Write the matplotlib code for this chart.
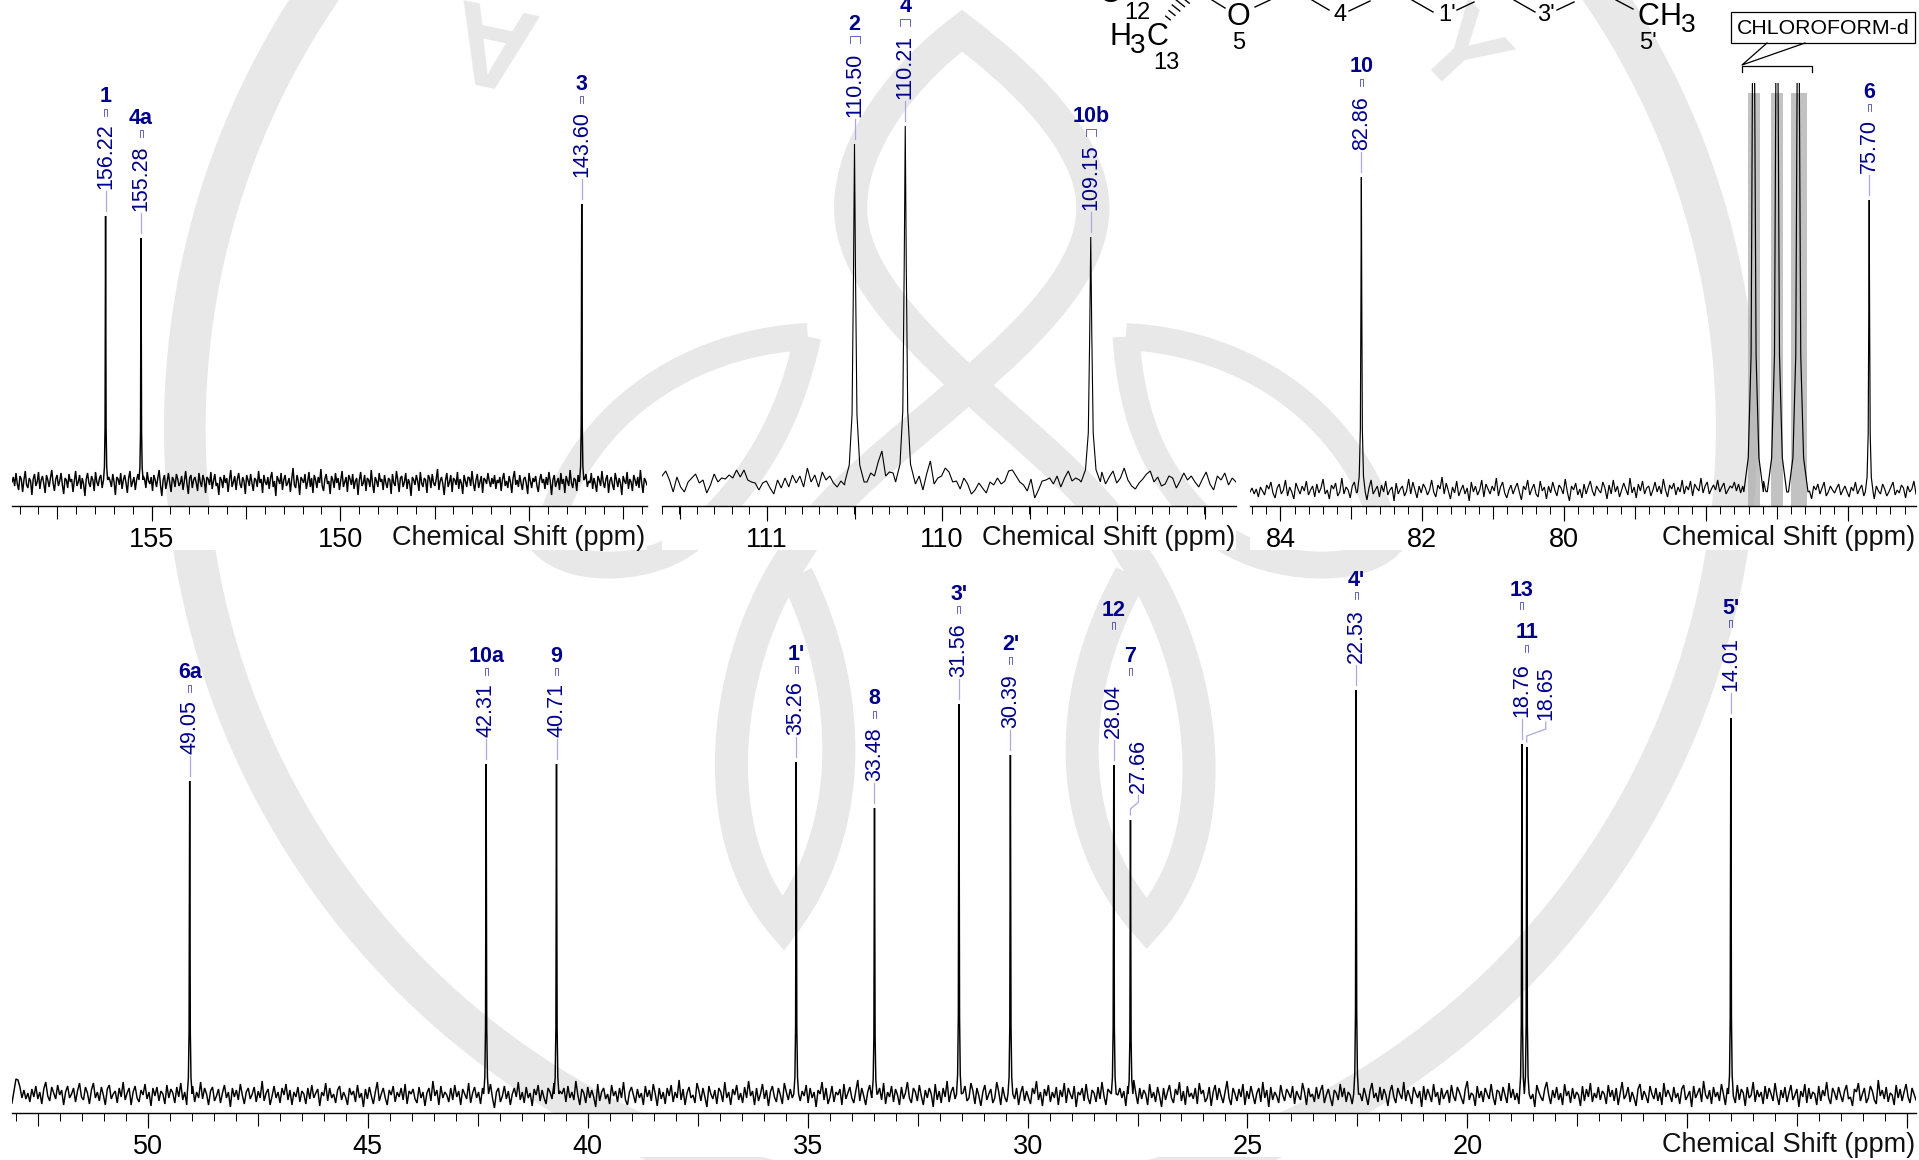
import numpy as np
import matplotlib
matplotlib.use("Agg")
import matplotlib.pyplot as plt
from matplotlib.path import Path
from matplotlib.patches import PathPatch, Circle, Rectangle
from matplotlib.ticker import MultipleLocator

plt.rcParams["font.family"] = ["Liberation Sans", "DejaVu Sans"]

W, H = 1919, 1160

# peak tables (ppm, label, intensity)
ppm_a = [156.22, 155.28, 143.60]
lab_a = ["1", "4a", "3"]
int_a = [290, 268, 302]
ppm_b = [110.50, 110.21, 109.15]
lab_b = ["2", "4", "10b"]
int_b = [362, 380, 269]
ppm_c = [82.86, 75.70]
lab_c = ["10", "6"]
int_c = [329, 306]
ppm_d = [49.05, 42.31, 40.71, 35.26, 33.48, 31.56, 30.39, 28.04, 27.66, 22.53, 18.76, 18.65, 14.01]
lab_d = ["6a", "10a", "9", "1'", "8", "3'", "2'", "12", "7", "4'", "13", "11", "5'"]
int_d = [332, 349, 349, 351, 305, 409, 358, 348, 293, 423, 369, 366, 395]

# solvent triplet, clipped at the top of the panel
ppm_solvent = [77.33, 77.00, 76.70]
int_solvent = [700, 700, 700]
solvent_bands = [(77.41, 77.24), (77.09, 76.92), (76.80, 76.58)]

# pixel row of the bold atom labels
label_y_a = [97, 118, 84]
label_y_b = [24, 7, 117]
label_y_c = [67, 92]
label_y_d = [673, 656, 656, 654, 699, 594, 645, 610, 656, 580, 590, 633, 608]

# baselines
noise_a = [24,29,20,33,22,16,30,27,14,26,35,21,18,28,25,11,27,32,20,24,34,17,26,30,22,13,31,26,19,28,36,23,15,27,31,20,25,33,21,12,
	28,26,18,32,24,27,14,25,35,20,24,31,17,28,22,10,27,33,23,19,30,26,15,34,24,20,28,31,18,26,37,22,14,29,25,19,32,24,11,29,
	27,21,33,17,26,31,23,13,28,35,19,24,29,16,26,32,20,23,12,30,27,18,34,25,22,29,15,31,26,19,28,36,21,10,26,31,17,24,33,23,
	14,29,26,19,32,27,20,23,30,16,25,35,22,12,28,31,18,26,29,23,15,33,24,19,31,26,13,29,27,21,34,17,25,32,20,23,11,29,26,18,
	31,23,28,14,26,36,19,24,30,16,27,33,22,18,29,25,12,31,26,20,32,23,15,28,26,19,35,23,27,13,31,24,21,29,17,28,34,19,25,10,
	30,26,22,33,16,26,31,20,23,28,14,27,38,21,18,31,25,11,29,26,23,32,17,24,34,19,28,13,31,26,18,29,23,37,20,15,27,32,22,25,
	12,30,26,18,33,23,28,16,26,35,19,24,29,14,31,27,21,32,17,25,28,11,26,34,20,23,31,15,28,26,19,36,22,13,29,25,19,33,24,27,
	16,31,23,18,28,26,12,32,23,20,35,26,14,28,30,19,24,33,17,27,22,10,29,26,21,31,25,15,34,23,19,28,26,13,31,28,18,32,23,20,
	27,37,16,25,29,22,11,26,33,19,24,31,14,28,26,21,34,17,27,23,12,31,25,19,29,28,20,35,23,15,26,32,18,24,30,13,28,26,22,33,
	25,19,28,22,31,17,26,23,29,15,27,33,20,25,18,30,24,13,28,35,21,26,19,31,23,16,27,29,22,12,33,25,18,28,24,30,20,14,26,32,
	23,27,17,29,21,34,25,11,26,31,19,24,28,16,33,22,27,13,30,25,20,36,23,18,28,26,15,31,24,21,29,12,27,32,19,25,23,33,17,28,
	22,14,30,26,20,35,24,18,27,31,13,25,29,21,16,33,26,19,28,23,11,30,25,22,34,17,27,24,15,31,26,20,29,18,36,23,13,28,25,21]

noise_b = [30,35,26,14,29,19,14,24,28,32,23,26,13,21,32,24,28,27,31,28,36,29,36,26,24,23,16,23,25,18,12,26,18,28,19,31,23,30,19,38,
	24,31,19,34,26,30,23,19,25,21,39,21,31,24,33,24,33,30,44,55,30,34,33,25,24,24,38,27,22,30,16,32,45,22,28,30,38,34,24,25,
	17,28,22,12,16,23,18,13,24,21,28,22,25,35,36,30,24,21,15,27,8,16,25,26,28,22,30,19,28,35,25,28,26,14,26,32,18,30,34,22,
	29,35,23,28,38,26,20,17,23,27,32,35,24,29,20,22,30,28,18,25,33,26,30,24,19,27,34,22,16,30,26,33,21,28,24]

noise_c = [14,18,12,17,9,19,15,11,21,17,24,13,8,18,22,12,16,26,10,19,14,7,23,17,12,20,15,25,11,16,20,9,22,13,18,27,12,16,7,21,
	17,23,10,14,28,12,19,16,8,20,24,13,17,11,22,15,6,18,26,12,16,20,9,21,14,25,11,16,19,5,23,12,17,20,10,15,27,12,24,16,
	8,20,13,22,18,11,16,26,14,9,21,17,29,12,23,15,7,19,13,25,10,16,21,12,18,5,24,14,20,11,16,26,9,22,17,12,20,15,28,10,
	19,24,13,8,16,21,12,18,23,14,6,20,16,26,11,17,22,12,9,25,15,19,7,20,13,24,16,10,21,18,12,27,14,5,20,16,23,11,17,8,
	22,12,19,25,15,10,20,16,13,24,18,7,21,12,26,14,20,9,16,23,17,11,28,13,19,8,22,15,25,12,18,20,10,16,24,14,20,12,27,16,
	9,21,17,23,11,19,14,26,12,20,16,25,10,22,18,15,28,13,20,24,12,17,21,16,26,14,19,23,12,16,20,18,24,15,22,13,20,27,16,12,
	17,23,14,20,11,19,25,15,9,22,16,12,20,8,18,24,14,20,11,23,16,10,21,17,13,25,12,19,15,7,20,16,22,12,18,24,10,14,20,16,
	13,18,22,11,16,20,14,9,19,15,24,12,17,21,10,16,23,13,18,7,20,15,12,22,17,10,14,19,24,11,16,13,21,18,8,20,14,17,25,12]

noise_d = [10,22,34,33,26,15,23,14,20,11,24,16,27,14,21,9,24,31,17,12,26,20,14,28,18,23,8,21,27,15,19,25,11,22,30,16,13,26,20,9,
	23,30,15,21,12,26,18,8,24,28,14,19,22,10,25,16,31,13,20,25,8,21,27,15,11,23,18,29,14,21,7,25,17,26,12,22,19,9,28,15,
	24,20,10,26,16,30,13,21,8,23,18,27,11,21,15,31,14,25,19,8,22,26,12,17,24,10,20,28,15,21,6,25,16,23,13,29,18,9,21,25,
	14,19,26,11,22,15,32,12,20,24,8,17,27,15,21,10,25,18,29,13,23,8,21,16,26,11,22,19,9,25,14,28,15,20,24,7,21,17,30,12,
	25,15,19,10,23,27,13,21,16,8,25,18,22,11,28,15,20,6,24,14,26,17,9,21,31,12,19,25,15,8,23,18,27,11,21,16,25,13,29,9,
	22,19,24,14,10,26,15,21,7,20,25,12,32,17,23,8,27,15,21,18,11,25,13,28,16,22,8,24,19,14,30,10,20,26,15,21,9,25,12,18,
	23,29,15,5,21,25,11,17,27,14,22,8,19,25,16,31,13,21,10,26,15,20,7,24,18,28,12,23,15,9,25,21,14,30,17,8,22,19,25,11,
	27,15,21,13,32,18,8,24,20,10,26,15,23,16,6,29,12,21,25,14,19,9,28,17,22,11,25,15,31,13,8,21,26,18,10,24,15,20,8,27,
	16,23,12,29,19,7,25,14,21,9,25,17,28,11,21,15,33,13,24,8,20,26,15,18,10,30,22,12,25,16,6,27,19,14,23,9,25,21,11,31,
	15,21,8,24,18,28,13,20,10,26,15,32,17,22,8,25,12,19,29,14,23,7,21,27,16,11,25,18,9,30,21,13,24,15,20,8,26,12,22,17,
	28,10,25,15,21,6,23,19,31,13,25,9,16,27,11,21,18,24,8,29,14,20,26,15,10,22,33,12,25,17,8,21,28,15,23,7,19,25,13,30,
	9,21,16,27,11,24,18,8,26,14,20,31,15,10,25,21,12,28,17,8,23,15,25,19,6,29,13,22,10,25,16,32,11,21,26,14,18,8,24,20,
	27,12,15,30,22,9,25,17,7,21,28,13,19,24,10,15,31,21,8,26,16,11,23,18,29,14,25,8,20,27,12,22,15,9,25,19,32,13,21,7,
	24,17,28,11,21,15,26,8,23,16,30,10,25,19,14,27,6,21,18,25,12,29,15,9,23,20,11,26,14,31,17,8,24,21,13,28,10,18,25,15,
	22,7,27,16,12,33,20,9,25,14,23,19,8,29,15,21,11,26,17,6,25,13,21,28,15,10,24,18,31,12,22,8,27,16,20,14,25,9,30,19,
	23,11,15,26,7,21,28,13,25,17,10,21,32,15,8,25,19,12,24,16,29,8,22,14,27,18,9,20,25,11,31,15,23,6,26,13,21,17,10,28,
	18,12,24,20,15,27,9,22,17,13,30,21,8,25,16,19,11,26,14,22,28,10,18,24,15,7,23,20,13,29,16,25,11,21,18,9,27,14,23,19,
	12,25,17,8,22,30,15,20,11,26,13,24,18,7,21,28,16,10,25,19,14,31,12,23,17,9,26,20,15,22,6,27,13,24,18,11,29,16,21,8,
	25,14,19,23,10,28,17,12,26,21,15,9,24,32,13,20,18,7,27,15,22,11,25,19,14,29,16,8,23,21,12,26,18,10,30,15,24,13,20,9,
	27,17,22,11,25,14,19,6,28,21,16,12,24,31,18,9,23,15,26,13,20,8,29,17,22,10,25,14,21,18,7,27,12,24,16,30,11,20,15,26,
	13,22,19,9,28,16,23,12,25,8,20,31,14,18,26,11,21,15,7,24,29,13,22,17,10,27,19,14,25,12,21,8,30,16,23,18,11,26,15,20,
	9,24,28,13,17,22,6,27,15,20,25,11,32,18,14,23,9,26,16,21,12,29,19,8,25,14,22,17,10,28,13,24,20,7,26,15,18,31,11,23,
	16,21,9,27,14,25,19,12,30,17,8,23,15,26,11,20,28,13,18,24,6,22,16,29,10,25,14,21,19,8,27,12,23,17,31,15,9,25,20,13,
	26,18,11,22,28,14,16,7,24,21,30,12,19,25,10,15,27,22,13,9,33,17,23,14,26,11,20,18,8,28,15,24,12,21,29,16,10,25,19,13]

fig = plt.figure(figsize=(W / 100, H / 100), dpi=100)
fig.patch.set_facecolor("white")

bg = fig.add_axes([0, 0, 1, 1], zorder=0)
bg.set_xlim(0, W)
bg.set_ylim(H, 0)
bg.axis("off")

# ------ watermark
S = W / 1568
GREY = "#e8e8e8"


def curve(points, width):
	verts = np.array(points) * S
	codes = [Path.MOVETO] + [Path.CURVE4] * (len(points) - 1)
	bg.add_patch(PathPatch(Path(verts, codes), fill=False, edgecolor=GREY, lw=width * S * 0.72,
						   capstyle="butt", joinstyle="miter"))


bg.add_patch(Circle((785 * S, 350 * S), 634 * S, fill=False, edgecolor=GREY, lw=34 * S * 0.72))
curve([(651, 470), (700, 570), (697, 680), (640, 755), (575, 680), (590, 540), (650, 452),
	   (700, 365), (893, 270), (893, 170), (893, 115), (832, 60), (786, 25),
	   (740, 60), (695, 115), (695, 170), (695, 270), (880, 365), (925, 452),
	   (985, 540), (1005, 680), (937, 755), (870, 680), (868, 570), (924, 470)], 27)
curve([(660, 275), (645, 345), (615, 395), (565, 440), (535, 466), (470, 470), (445, 445),
	   (470, 340), (560, 280), (660, 275)], 22)
curve([(920, 275), (925, 345), (945, 395), (1000, 440), (1040, 466), (1110, 470), (1135, 445),
	   (1110, 340), (1020, 280), (920, 275)], 22)
bg.text(491, 36, "A", color=GREY, fontsize=84, ha="center", va="center", rotation=168, fontweight="bold")
bg.text(1456, 56, "Y", color=GREY, fontsize=80, ha="center", va="center", rotation=-47, fontweight="bold")

# the tick label strips hide the watermark
for x0, x1, y0, y1 in [(12, 647, 506, 550), (662, 1236, 506, 550), (1250, 1916, 506, 550), (12, 1916, 1113, 1157)]:
	bg.add_patch(Rectangle((x0, y0), x1 - x0, y1 - y0, color="white", lw=0))


# ------ spectra
PROFILE_OFF = np.array([-0.055, -0.03, -0.014, -0.006, 0, 0.006, 0.014, 0.03, 0.055])
PROFILE_FRAC = np.array([0.0, 0.05, 0.2, 0.6, 1, 0.6, 0.2, 0.05, 0.0])


def build_trace(noise, left, right, base, peaks, heights, scale=None):
	x = np.linspace(left, right, len(noise))
	y = np.array(noise, dtype=float)
	if scale is None:
		scale = [1] * len(peaks)
	for p, h, s in zip(peaks, heights, scale):
		keep = np.abs(x - p) > 0.055 * s
		x = np.concatenate([x[keep], p + PROFILE_OFF * s])
		y = np.concatenate([y[keep], base + PROFILE_FRAC * (h - base)])
		order = np.argsort(-x)
		x, y = x[order], y[order]
	return x, y


def panel(x0, x1, y_axis, y_top, left, right, trace, lw, minor, medium, major, labels, xlabel_x):
	ax = fig.add_axes([x0 / W, (H - y_axis) / H, (x1 - x0) / W, (y_axis - y_top) / H], zorder=2)
	ax.patch.set_alpha(0)
	ax.plot(trace[0], trace[1], color="black", lw=lw, solid_joinstyle="miter")
	ax.set_xlim(left, right)
	ax.set_ylim(0, y_axis - y_top)
	for side in ["top", "left", "right"]:
		ax.spines[side].set_visible(False)
	ax.spines["bottom"].set_linewidth(1.0)
	ax.set_yticks([])
	ax.set_xticks(major)
	ax.set_xticklabels(labels)
	ax.xaxis.set_minor_locator(MultipleLocator(minor))
	ax.tick_params(axis="x", which="major", length=15 * 0.72, width=0.8, pad=4.5, labelsize=19.5)
	ax.tick_params(axis="x", which="minor", length=8 * 0.72, width=0.7)
	sec = ax.secondary_xaxis("bottom")
	sec.xaxis.set_major_locator(MultipleLocator(medium))
	sec.tick_params(axis="x", which="major", length=12.5 * 0.72, width=0.8, labelbottom=False)
	sec.spines["bottom"].set_visible(False)
	top.text(xlabel_x, y_axis + 32, "Chemical Shift (ppm)", fontsize=19.5, ha="right", va="center", color="#111111")
	return ax


top = fig.add_axes([0, 0, 1, 1], zorder=3)
top.set_xlim(0, W)
top.set_ylim(H, 0)
top.axis("off")
top.patch.set_alpha(0)

trace_a = build_trace(noise_a, 158.7, 141.87, 26, ppm_a, int_a)
trace_b = build_trace(noise_b, 111.6, 108.32, 24, ppm_b, int_b)
trace_c = build_trace(noise_c, 84.43, 75.04, 14, ppm_c + ppm_solvent, int_c + int_solvent, [1, 1, 2.5, 2.5, 2.5])
trace_d = build_trace(noise_d, 53.09, 9.8, 19, ppm_d, int_d)

ax_a = panel(12, 647, 506, 0, 158.7, 141.87, trace_a, 1.05, 0.5, 2.5, [155, 150, 145], ["155", "150", ""], 645)
ax_b = panel(662, 1236, 506, 0, 111.6, 108.32, trace_b, 0.8, 0.1, 0.5, [111, 110, 109], ["111", "110", ""], 1235)
ax_c = panel(1250, 1916, 506, 83, 84.43, 75.04, trace_c, 0.85, 0.2, 1, [84, 82, 80, 78, 76], ["84", "82", "80", "", ""], 1915)
ax_d = panel(12, 1916, 1113, 560, 53.09, 9.8, trace_d, 1.05, 0.5, 2.5, [50, 45, 40, 35, 30, 25, 20, 15, 10],
			 ["50", "45", "40", "35", "30", "25", "20", "", ""], 1915)

for lo, hi in solvent_bands:
	ax_c.axvspan(lo, hi, ymin=0, ymax=413 / 423, color="#a8a8a8", alpha=0.7, lw=0, zorder=0)

NAVY = "#00008b"
LINK = "#a9a9dc"


def annotate(ax, y_axis, peaks, labels, heights, label_y, wide=(), shift=None):
	shift = shift or {}
	for p, lab, h, ly in zip(peaks, labels, heights, label_y):
		px = ax.transData.transform((p, 0))[0]
		peak_top = y_axis - h
		dx = shift.get(lab, 0)
		bottom = peak_top - 27
		if dx:
			# the number sits beside the peak, joined by a bent link
			top.plot([px, px, px + dx, px + dx], [peak_top - 5, peak_top - 11, peak_top - 18, peak_top - 25],
					 color=LINK, lw=0.9)
		else:
			top.plot([px, px], [peak_top - 5, peak_top - 25], color=LINK, lw=0.9)
		top.text(px + dx, bottom, "%.2f" % p, rotation=90, color=NAVY, fontsize=15.5, ha="center", va="bottom")
		half = 5 if lab in wide else 1.5
		top.plot([px - half, px - half, px + half, px + half], [ly + 19, ly + 12, ly + 12, ly + 19], color=NAVY, lw=0.6, alpha=0.7)
		top.text(px, ly, lab, color=NAVY, fontsize=15.5, fontweight="bold", ha="center", va="center")


annotate(ax_a, 506, ppm_a, lab_a, int_a, label_y_a)
annotate(ax_b, 506, ppm_b, lab_b, int_b, label_y_b, wide=("2", "4", "10b"))
annotate(ax_c, 506, ppm_c, lab_c, int_c, label_y_c)
annotate(ax_d, 1113, ppm_d, lab_d, int_d, label_y_d, shift={"7": 8, "11": 19})

# ------ solvent callout
top.add_patch(Rectangle((1731, 12), 184, 31, facecolor="white", edgecolor="black", lw=0.9))
top.text(1823, 28, "CHLOROFORM-d", fontsize=15.3, ha="center", va="center", color="black")
top.plot([1767, 1742, 1805], [43, 65, 43], color="black", lw=0.9)
top.plot([1742, 1742, 1812, 1812], [72, 66, 66, 72], color="black", lw=0.9)

# ------ structure fragment at the top edge
bonds = [(1212, 0, 1225, 8), (1255, 7, 1270, 0), (1312, 0, 1329, 10), (1349, 11, 1370, 1), (1412, 0, 1433, 12),
		 (1457, 10, 1474, 2), (1514, 0, 1535, 12), (1557, 10, 1574, 2), (1616, 0, 1633, 9)]
for xa, ya, xb, yb in bonds:
	top.plot([xa, xb], [ya, yb], color="black", lw=1.0, clip_on=True)
hash_x = [1168, 1172, 1176, 1180, 1184]
hash_y = [18, 13, 8, 3, -1]
hash_half = [3, 4, 5, 6, 7]
for hx, hy, hh in zip(hash_x, hash_y, hash_half):
	top.plot([hx - hh * 0.75, hx + hh * 0.75], [hy - hh * 0.6, hy + hh * 0.6], color="black", lw=1.0)

big = [("O", 1238, 17), ("C", 1648, 17), ("H", 1670, 17), ("H", 1121, 37), ("C", 1157, 37), ("O", 1110, -6)]
for t, x, y in big:
	top.text(x, y, t, fontsize=22, ha="center", va="center", color="black")
small = [("3", 1688, 25, 19), ("3", 1138, 46, 20), ("5", 1239, 43, 17), ("5'", 1648, 43, 17), ("12", 1137, 13, 17),
		 ("13", 1166, 63, 17), ("4", 1340, 15, 17), ("1'", 1447, 15, 17), ("3'", 1546, 15, 17)]
for t, x, y, fs in small:
	top.text(x, y, t, fontsize=fs, ha="center", va="center", color="black")

fig.savefig("out.png", dpi=100)
